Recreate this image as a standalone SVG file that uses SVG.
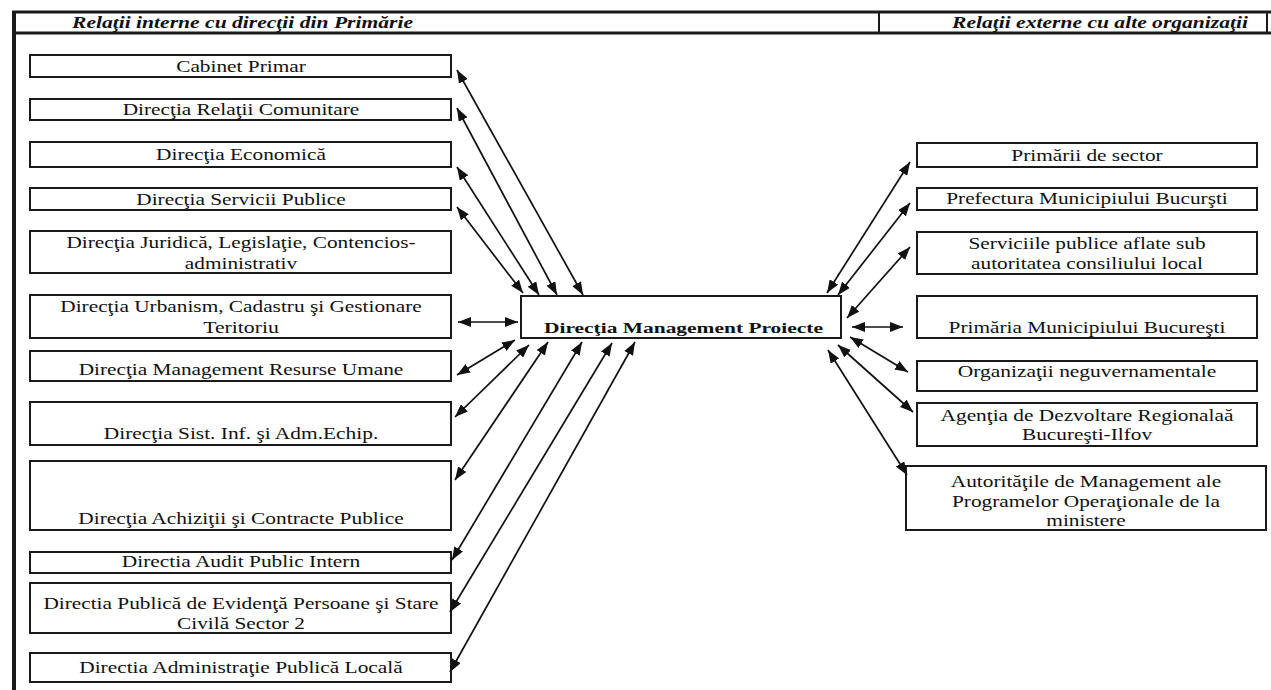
<svg xmlns="http://www.w3.org/2000/svg" width="1271" height="690" viewBox="0 0 1271 690">
<style>
.box{fill:#fff;stroke:#1a1a1a;stroke-width:2}
.t{font-family:"Liberation Serif","Times New Roman",serif;font-size:17.5px;fill:#111;text-anchor:middle}
.hd{font-family:"Liberation Serif","Times New Roman",serif;font-size:16px;font-weight:bold;font-style:italic;fill:#111;text-anchor:middle}
.ctr{font-family:"Liberation Serif","Times New Roman",serif;font-size:15.5px;font-weight:bold;fill:#111;text-anchor:middle}
.ar{stroke:#111;stroke-width:1.7;fill:none;marker-start:url(#ah);marker-end:url(#ah)}
.frame{stroke:#1a1a1a;fill:none}
</style>
<defs>
<marker id="ah" markerUnits="userSpaceOnUse" markerWidth="14" markerHeight="10" refX="13" refY="5" orient="auto-start-reverse">
<path d="M0,0 L13,5 L0,10 z" fill="#111"/>
</marker>
</defs>
<rect width="1271" height="690" fill="#fff"/>
<g id="frame">
<line class="frame" x1="12" y1="12" x2="1271" y2="12" stroke-width="3"/>
<line class="frame" x1="12" y1="33" x2="1271" y2="33" stroke-width="3"/>
<line class="frame" x1="14" y1="11" x2="14" y2="690" stroke-width="4"/>
<line class="frame" x1="879" y1="12" x2="879" y2="33" stroke-width="2"/>
<line class="frame" x1="1267" y1="12" x2="1267" y2="33" stroke-width="2"/>
<text class="hd" x="242.5" y="28" textLength="341" lengthAdjust="spacingAndGlyphs">Relaţii interne cu direcţii din Primărie</text>
<text class="hd" x="1100" y="28" textLength="296" lengthAdjust="spacingAndGlyphs">Relaţii externe cu alte organizaţii</text>
</g>
<g id="n-center"><rect class="box" x="521" y="296" width="320" height="42"/><text class="ctr" x="683.5" y="333" textLength="279" lengthAdjust="spacingAndGlyphs">Direcţia Management Proiecte</text></g>
<g id="n1"><rect class="box" x="30" y="55" width="421" height="22"/><text class="t" x="241" y="72" textLength="129.6" lengthAdjust="spacingAndGlyphs">Cabinet Primar</text></g>
<g id="n2"><rect class="box" x="30" y="99" width="421" height="21"/><text class="t" x="241" y="115" textLength="236.6" lengthAdjust="spacingAndGlyphs">Direcţia Relaţii Comunitare</text></g>
<g id="n3"><rect class="box" x="30" y="142" width="421" height="25"/><text class="t" x="241" y="160" textLength="169.8" lengthAdjust="spacingAndGlyphs">Direcţia Economică</text></g>
<g id="n4"><rect class="box" x="30" y="188" width="421" height="22"/><text class="t" x="241" y="205" textLength="209.4" lengthAdjust="spacingAndGlyphs">Direcţia Servicii Publice</text></g>
<g id="n5"><rect class="box" x="30" y="231" width="421" height="42"/><text class="t" x="241" y="248" textLength="349.2" lengthAdjust="spacingAndGlyphs">Direcţia Juridică, Legislaţie, Contencios-</text><text class="t" x="241" y="269" textLength="112.4" lengthAdjust="spacingAndGlyphs">administrativ</text></g>
<g id="n6"><rect class="box" x="30" y="295" width="421" height="43"/><text class="t" x="241" y="312" textLength="361.4" lengthAdjust="spacingAndGlyphs">Direcţia Urbanism, Cadastru şi Gestionare</text><text class="t" x="241" y="333" textLength="75.7" lengthAdjust="spacingAndGlyphs">Teritoriu</text></g>
<g id="n7"><rect class="box" x="30" y="351" width="421" height="30"/><text class="t" x="241" y="375" textLength="324.7" lengthAdjust="spacingAndGlyphs">Direcţia Management Resurse Umane</text></g>
<g id="n8"><rect class="box" x="30" y="402" width="421" height="43"/><text class="t" x="241" y="439" textLength="274.5" lengthAdjust="spacingAndGlyphs">Direcţia Sist. Inf. şi Adm.Echip.</text></g>
<g id="n9"><rect class="box" x="30" y="461" width="421" height="69"/><text class="t" x="241" y="524" textLength="325.4" lengthAdjust="spacingAndGlyphs">Direcţia Achiziţii şi Contracte Publice</text></g>
<g id="n10"><rect class="box" x="30" y="552" width="421" height="21"/><text class="t" x="241" y="567" textLength="238.4" lengthAdjust="spacingAndGlyphs">Directia Audit Public Intern</text></g>
<g id="n11"><rect class="box" x="30" y="583" width="421" height="50"/><text class="t" x="241" y="609" textLength="395.2" lengthAdjust="spacingAndGlyphs">Directia Publică de Evidenţă Persoane şi Stare</text><text class="t" x="241" y="629" textLength="127.8" lengthAdjust="spacingAndGlyphs">Civilă Sector 2</text></g>
<g id="n12"><rect class="box" x="30" y="653" width="421" height="29"/><text class="t" x="241" y="673" textLength="323.6" lengthAdjust="spacingAndGlyphs">Directia Administraţie Publică Locală</text></g>
<g id="r1"><rect class="box" x="917" y="143" width="340" height="24"/><text class="t" x="1087" y="161" textLength="151.4" lengthAdjust="spacingAndGlyphs">Primării de sector</text></g>
<g id="r2"><rect class="box" x="917" y="188" width="340" height="22"/><text class="t" x="1087" y="204" textLength="281.6" lengthAdjust="spacingAndGlyphs">Prefectura Municipiului Bucurşti</text></g>
<g id="r3"><rect class="box" x="917" y="232" width="340" height="42"/><text class="t" x="1087" y="249" textLength="237.2" lengthAdjust="spacingAndGlyphs">Serviciile publice aflate sub</text><text class="t" x="1087" y="269" textLength="231.9" lengthAdjust="spacingAndGlyphs">autoritatea consiliului local</text></g>
<g id="r4"><rect class="box" x="917" y="296" width="340" height="42"/><text class="t" x="1087" y="333" textLength="276.9" lengthAdjust="spacingAndGlyphs">Primăria Municipiului Bucureşti</text></g>
<g id="r5"><rect class="box" x="917" y="361" width="340" height="30"/><text class="t" x="1087" y="377" textLength="258.5" lengthAdjust="spacingAndGlyphs">Organizaţii neguvernamentale</text></g>
<g id="r6"><rect class="box" x="917" y="403" width="340" height="43"/><text class="t" x="1087" y="421" textLength="292.8" lengthAdjust="spacingAndGlyphs">Agenţia de Dezvoltare Regionalaă</text><text class="t" x="1087" y="440" textLength="130.1" lengthAdjust="spacingAndGlyphs">Bucureşti-Ilfov</text></g>
<g id="r7"><rect class="box" x="906" y="466" width="360" height="64"/><text class="t" x="1086" y="487" textLength="270.3" lengthAdjust="spacingAndGlyphs">Autorităţile de Management ale</text><text class="t" x="1086" y="507" textLength="268" lengthAdjust="spacingAndGlyphs">Programelor Operaţionale de la</text><text class="t" x="1086" y="526" textLength="79.3" lengthAdjust="spacingAndGlyphs">ministere</text></g>
<g id="connectors">
<line class="ar" x1="457" y1="70" x2="583" y2="295"/>
<line class="ar" x1="457" y1="108" x2="557" y2="295"/>
<line class="ar" x1="457" y1="167" x2="539" y2="295"/>
<line class="ar" x1="457" y1="207" x2="523" y2="293"/>
<line class="ar" x1="458" y1="322" x2="518" y2="322"/>
<line class="ar" x1="457" y1="375" x2="515" y2="340"/>
<line class="ar" x1="455" y1="417" x2="529" y2="345"/>
<line class="ar" x1="455" y1="480" x2="548" y2="342"/>
<line class="ar" x1="452" y1="560" x2="582" y2="342"/>
<line class="ar" x1="450" y1="612" x2="612" y2="343"/>
<line class="ar" x1="450" y1="672" x2="635" y2="342"/>
<line class="ar" x1="910" y1="162" x2="827" y2="293"/>
<line class="ar" x1="910" y1="203" x2="838" y2="295"/>
<line class="ar" x1="910" y1="247" x2="847" y2="318"/>
<line class="ar" x1="852" y1="327" x2="903" y2="327"/>
<line class="ar" x1="850" y1="337" x2="908" y2="372"/>
<line class="ar" x1="838" y1="345" x2="913" y2="412"/>
<line class="ar" x1="828" y1="350" x2="907" y2="475"/>
</g>
</svg>
